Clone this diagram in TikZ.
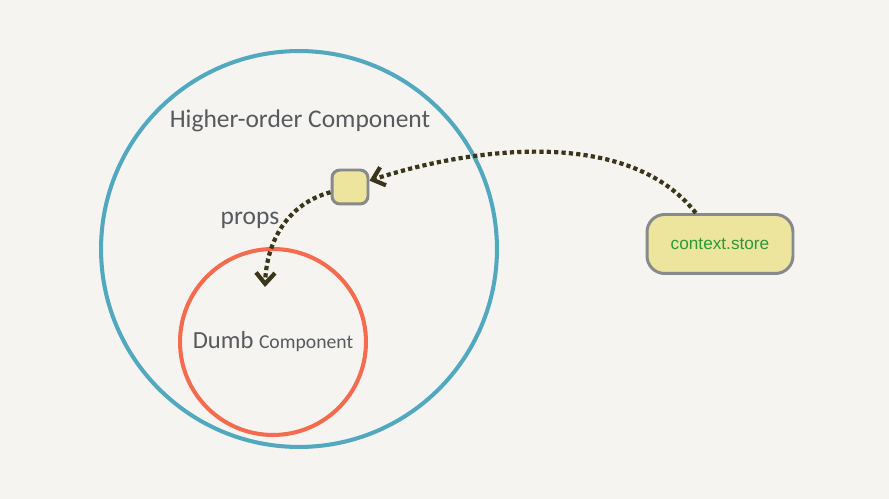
\documentclass[tikz,border=0pt]{standalone}
\usepackage{fontspec}
\setmainfont{Carlito}
\newfontfamily\storefont{Liberation Sans}
\usetikzlibrary{arrows.meta}
\definecolor{bg}{HTML}{F5F4F0}
\definecolor{hocblue}{HTML}{52A8BF}
\definecolor{dumbred}{HTML}{F46B4E}
\definecolor{boxfill}{HTML}{EDE49E}
\definecolor{boxline}{HTML}{88898C}
\definecolor{arrowcol}{HTML}{3B3619}
\definecolor{storegreen}{HTML}{2A9A38}
\definecolor{labelgray}{HTML}{565A5E}

\begin{document}
\begin{tikzpicture}[x=0.02cm, y=-0.02cm,
    ring/.style={circle, inner sep=0pt, line width=2.3pt},
    propbox/.style={draw=boxline, fill=boxfill, line width=1.7pt, rounded corners=4.5pt},
    flow/.style={draw=arrowcol, line width=2.4pt, dash pattern=on 2.4pt off 1.8pt,
        -{Straight Barb[length=0.22cm, width=0.38cm]}},
    caption/.style={text=labelgray, inner sep=0pt}]
    % background
    \fill[bg] (0,0) rectangle (889,499);
    % circles
    \node[ring, draw=hocblue, minimum size=7.92cm] (hoc) at (299,249) {};
    \node[ring, draw=dumbred, minimum size=3.72cm] (dumb) at (273,342) {};
    \node[caption, font=\fontsize{14.5}{16}\selectfont] (hoclabel) at (300,121) {Higher-order Component};
    \node[caption] (dumblabel) at (273,342) {\fontsize{14}{15}\selectfont Dumb \fontsize{11.2}{15}\selectfont Component};
    % boxes
    \node[propbox, minimum width=0.72cm, minimum height=0.68cm] (inner) at (350,187) {};
    \node[propbox, rounded corners=10pt, minimum width=2.92cm, minimum height=1.18cm,
        text=storegreen, font=\storefont\fontsize{9.8}{11}\selectfont] (store) at (720,244) {context.store};
    \node[caption, font=\fontsize{14.5}{16}\selectfont] (propslabel) at (250,220) {props};
    \coordinate (propsend) at (265,287);
    % arrows
    \draw[flow] (store) to[out=128, in=18, looseness=0.85] (inner);
    \draw[flow] (inner) to[out=195, in=88] (propsend);
\end{tikzpicture}
\end{document}
